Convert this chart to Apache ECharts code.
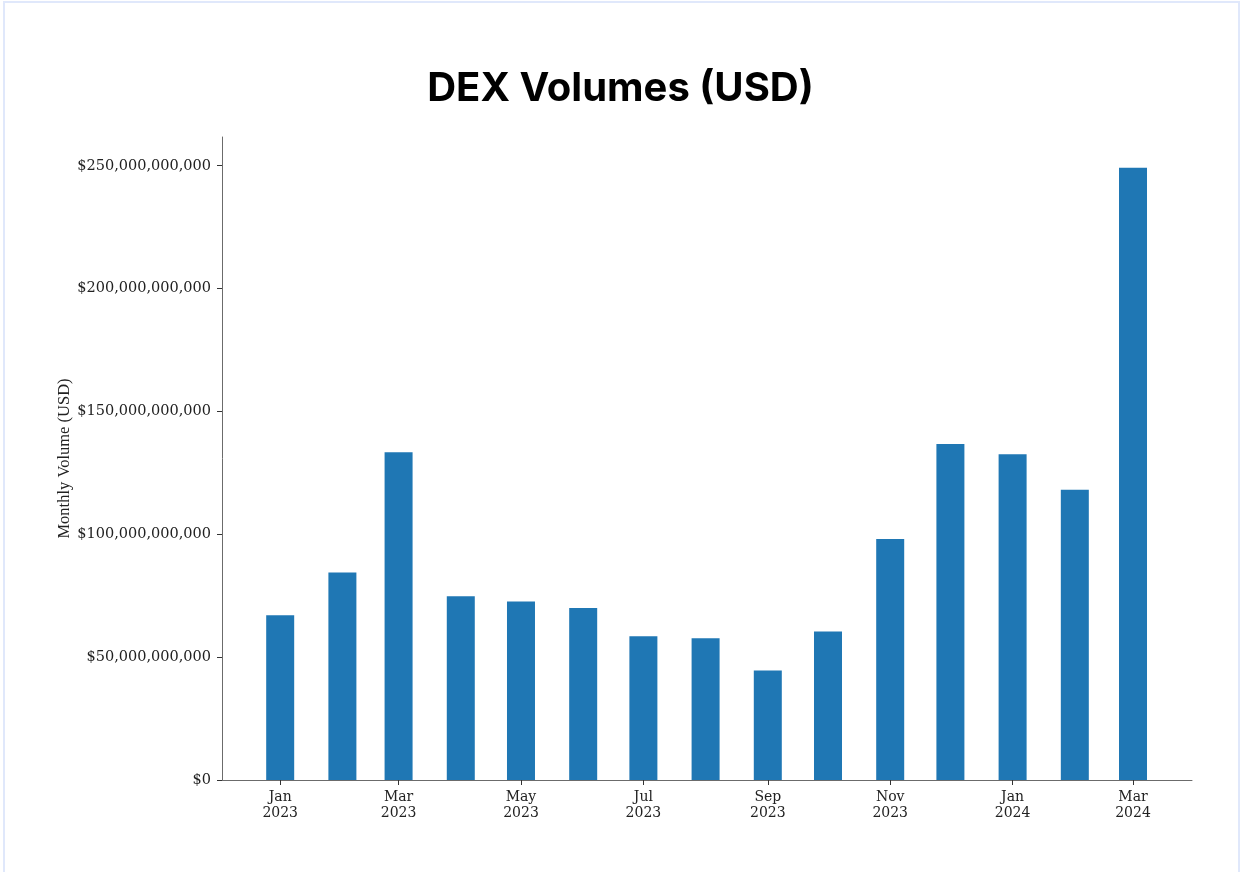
<!DOCTYPE html>
<html>
<head>
<meta charset="utf-8">
<script src="https://cdn.jsdelivr.net/npm/echarts@6/dist/echarts.min.js"></script>
<style>
  html, body { margin: 0; padding: 0; background: #ffffff; }
  #frame { position: absolute; left: 3px; top: 1px; width: 1237px; height: 880px; border: 2px solid #e0e8fb; box-sizing: border-box; }
  #chart { position: absolute; left: 0; top: 0; width: 1241px; height: 872px; }
</style>
</head>
<body>
<div id="frame"></div>
<div id="chart"></div>
<script>
// Months (first day of each month) and monthly DEX volume in billions of USD
const months = ['2023-01','2023-02','2023-03','2023-04','2023-05','2023-06','2023-07','2023-08','2023-09','2023-10','2023-11','2023-12','2024-01','2024-02','2024-03'];
const volumesB = [67.1, 84.5, 133.4, 74.8, 72.6, 70.0, 58.5, 57.7, 44.6, 60.4, 98.1, 136.8, 132.6, 118.1, 249.2];
const xTickMonths = ['2023-01','2023-03','2023-05','2023-07','2023-09','2023-11','2024-01','2024-03'];
const yTicksB = [0, 50, 100, 150, 200, 250];
const monthNames = ['Jan','Feb','Mar','Apr','May','Jun','Jul','Aug','Sep','Oct','Nov','Dec'];

const DAY = 86400000;
const origin = Date.UTC(2023, 0, 1);
function dayOf(m) {
  const [y, mo] = m.split('-').map(Number);
  return (Date.UTC(y, mo - 1, 1) - origin) / DAY;
}
function labelOf(d) {
  const dt = new Date(origin + Math.round(d) * DAY);
  return monthNames[dt.getUTCMonth()] + '\n' + dt.getUTCFullYear();
}

const chart = echarts.init(document.getElementById('chart'), null, { renderer: 'canvas' });
const serif = 'DejaVu Serif';
chart.setOption({
  animation: false,
  backgroundColor: 'transparent',
  title: {
    text: 'DEX Volumes (USD)',
    left: 'center',
    top: 64,
    textStyle: { fontFamily: 'Inter', fontWeight: 700, fontSize: 40, color: '#000' }
  },
  grid: { left: 222, right: 49, top: 137, bottom: 92, containLabel: false },
  xAxis: {
    type: 'value',
    min: -29.0,
    max: 454.4,
    splitLine: { show: false },
    axisLine: { show: true, onZero: false, lineStyle: { color: '#6b6b6b', width: 1 } },
    axisTick: { show: true, length: 5, lineStyle: { color: '#333' }, customValues: xTickMonths.map(dayOf) },
    axisLabel: {
      customValues: xTickMonths.map(dayOf),
      formatter: v => labelOf(v),
      fontFamily: serif, fontSize: 14, color: '#222', lineHeight: 16, margin: 9
    }
  },
  yAxis: {
    type: 'value',
    min: 0,
    max: 261.7,
    name: 'Monthly Volume (USD)',
    nameLocation: 'middle',
    nameRotate: 90,
    nameGap: 149,
    nameMoveOverlap: false,
    nameTextStyle: { fontFamily: 'Liberation Serif', fontSize: 16.5, color: '#222' },
    splitLine: { show: false },
    axisLine: { show: true, onZero: false, lineStyle: { color: '#6b6b6b', width: 1 } },
    axisTick: { show: true, length: 5, lineStyle: { color: '#333' }, customValues: yTicksB },
    axisLabel: {
      customValues: yTicksB,
      formatter: v => '$' + Math.round(v * 1e9).toLocaleString('en-US'),
      fontFamily: serif, fontSize: 14.5, color: '#222', margin: 11
    }
  },
  series: [{
    type: 'bar',
    barWidth: 28,
    itemStyle: { color: '#1f77b4' },
    data: months.map((m, i) => [dayOf(m), volumesB[i]])
  }]
});
</script>
</body>
</html>
